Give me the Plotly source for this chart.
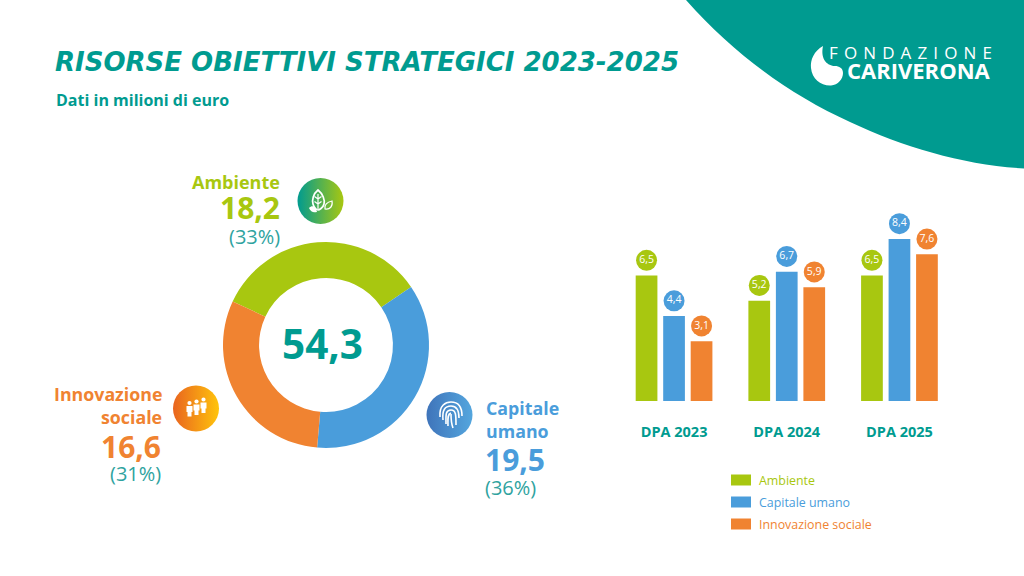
import plotly.graph_objects as go

# ---------- data ----------
SERIES = ["Ambiente", "Capitale umano", "Innovazione sociale"]
YEARS = ["DPA 2023", "DPA 2024", "DPA 2025"]
AMBIENTE = [6.5, 5.2, 6.5]
CAPITALE = [4.4, 6.7, 8.4]
INNOVAZIONE = [3.1, 5.9, 7.6]
TOTALS = [18.2, 19.5, 16.6]
TOTAL_ALL = 54.3
SHARES = ["(33%)", "(36%)", "(31%)"]

GREEN = "#A8C710"
BLUE = "#4A9DDB"
ORANGE = "#F08331"
TEAL = "#009B90"
COLORS = [GREEN, BLUE, ORANGE]
W, H = 1024, 576
FONT = "Open Sans"


def it(v):
    return f"{v:.1f}".replace(".", ",")


fig = go.Figure()

# ---------- bars ----------
x_pos = [0, 1, 2]
for name, vals, col in zip(SERIES, [AMBIENTE, CAPITALE, INNOVAZIONE], COLORS):
    fig.add_bar(x=x_pos, y=vals, name=name, marker_color=col, marker_line_width=0,
                xaxis="x", yaxis="y", showlegend=False, hoverinfo="name+y")

BUBBLE_OFFSET = 0.79
SLOT = 27.5 / 112.7
for j, (name, vals, col) in enumerate(zip(SERIES, [AMBIENTE, CAPITALE, INNOVAZIONE], COLORS)):
    fig.add_scatter(
        x=[i + (j - 1) * SLOT for i in x_pos],
        y=[v + BUBBLE_OFFSET for v in vals],
        text=[it(v) for v in vals],
        mode="markers+text", textposition="middle center",
        textfont=dict(family=FONT, size=10.5, color="white"),
        marker=dict(size=21, color=col, line_width=0),
        xaxis="x", yaxis="y", showlegend=False, hoverinfo="skip", cliponaxis=False,
    )

# ---------- doughnut ----------
cx, cy, R = 326, 345, 103
fig.add_pie(
    labels=SERIES, values=TOTALS, hole=0.65, sort=False, direction="clockwise", rotation=295,
    marker=dict(colors=COLORS, line_width=0), textinfo="none", showlegend=False,
    domain=dict(x=[(cx - R) / W, (cx + R) / W], y=[1 - (cy + R) / H, 1 - (cy - R) / H]),
)

# ---------- gradient icon discs (pixel overlay axes) ----------
for (ix, iy, c1, c2) in [(320.5, 201, "#009B90", GREEN),
                         (449.5, 415, "#3F74BA", "#54A6DE"),
                         (196, 408.5, "#E9641F", "#FFC40C")]:
    fig.add_scatter(x=[ix], y=[iy], mode="markers", xaxis="x2", yaxis="y2", showlegend=False,
                    hoverinfo="skip",
                    marker=dict(size=46, color=c1, line_width=0,
                                gradient=dict(type="horizontal", color=c2)))

# ---------- text ----------
ann = []


def txt(x, y, s, size, color, anchor="left", bold=False, italic=False, family=FONT):
    if bold:
        s = f"<b>{s}</b>"
    if italic:
        s = f"<i>{s}</i>"
    ann.append(dict(x=x, y=y, xref="x2", yref="y2", text=s, showarrow=False, xanchor=anchor,
                    yanchor="middle", align=anchor,
                    font=dict(family=family, size=size, color=color)))


txt(53, 62, "RISORSE OBIETTIVI STRATEGICI 2023-2025", 26, TEAL, bold=True, italic=True, family="DejaVu Sans")
txt(54, 100, "Dati in milioni di euro", 16, TEAL, bold=True)
txt(322.5, 343, it(TOTAL_ALL), 40.5, TEAL, "center", bold=True)

txt(281.5, 182, SERIES[0], 18, GREEN, "right", bold=True)
txt(282, 207, it(TOTALS[0]), 30, GREEN, "right", bold=True)
txt(282, 236, SHARES[0], 20, "#2FA3A0", "right")

txt(163.5, 394, "Innovazione", 17.8, ORANGE, "right", bold=True)
txt(163.5, 417, "sociale", 17.8, ORANGE, "right", bold=True)
txt(162.5, 446, it(TOTALS[2]), 30, ORANGE, "right", bold=True)
txt(162.5, 473, SHARES[2], 20, "#2FA3A0", "right")

txt(483.5, 408, "Capitale", 17.8, BLUE, bold=True)
txt(483.5, 431, "umano", 17.8, BLUE, bold=True)
txt(482.5, 459, it(TOTALS[1]), 30, BLUE, bold=True)
txt(482.5, 487, SHARES[1], 20, "#2FA3A0")

# legend
shapes = []
for name, col, ly in zip(SERIES, COLORS, [480, 502, 524]):
    shapes.append(dict(type="rect", xref="x2", yref="y2", x0=731, x1=751, y0=ly - 5.5, y1=ly + 5.5,
                       fillcolor=col, line_width=0, layer="above"))
    txt(757, ly, name, 12.4, col)

# logo
txt(827, 52, "F\u200a O\u200a N\u200a D\u200a A\u200a Z\u200a I\u200a O\u200a N\u200a E", 17, "white")
txt(845, 70, "CARIVERONA", 22, "white", bold=True)

# ---------- decorative paths ----------
def path(d, fill="white", line=None, width=0):
    s = dict(type="path", xref="x2", yref="y2", path=d, fillcolor=fill, layer="above",
             line=dict(width=width, color=line or "rgba(0,0,0,0)"))
    shapes.append(s)


# teal corner (below everything)
shapes.append(dict(type="path", xref="x2", yref="y2", layer="below", fillcolor=TEAL, line_width=0,
                   path="M 686 0 C 735 55, 790 95, 850 122 C 905 148, 965 165, 1024 168.5 L 1024 0 Z"))

# logo drop
path("M 823 46 C 814 51, 810 60, 811 68 C 812 79, 821 86, 831 85.5 C 838 85, 843 79, 843 73 "
     "C 843 68, 839 66, 835 66 C 828 66, 820 60, 823 46 Z")

# fingerprint
for d in ["M 440 417 C 439 405, 446 402, 451 402 C 458 402, 462 407, 462 416",
          "M 443 420 C 442 410, 445 406, 451 406 C 456 406, 459 410, 459 418",
          "M 446 424 C 446 416, 445 410, 451 410 C 456 410, 456 415, 456 425",
          "M 451 414 C 451 418, 451 423, 453 428", "M 448 426 C 448 420, 447 414, 451 413"]:
    path(d, fill="rgba(0,0,0,0)", line="white", width=1.6)

# leaves
path("M 318 190 C 313 194, 312 200, 313 204 C 314 208, 317 210, 318 210 C 319 210, 323 208, 324 204 "
     "C 325 200, 323 194, 318 190 Z", fill="rgba(0,0,0,0)", line="white", width=1.7)
path("M 318 194 L 318 209 M 318 199 L 314.5 196.5 M 318 199 L 321.5 196.5 M 318 204 L 314.5 201.5 M 318 204 L 321.5 201.5",
     fill="rgba(0,0,0,0)", line="white", width=1.2)
path("M 309 208 C 312 205, 316 206, 317 212 C 313 213, 311 212, 309 208 Z")
path("M 332 201 C 333 206, 330 210, 325 209 C 324 205, 327 202, 332 201 Z", fill="rgba(0,0,0,0)", line="white", width=1.2)

# people
for hx, hy in [(189.5, 403), (196.5, 401.5), (203.5, 399.5)]:
    shapes.append(dict(type="circle", xref="x2", yref="y2", x0=hx - 2.1, x1=hx + 2.1, y0=hy - 2.1, y1=hy + 2.1,
                       fillcolor="white", line_width=0, layer="above"))
    path(f"M {hx-3} {hy+3} L {hx+3} {hy+3} L {hx+3} {hy+9} L {hx+2} {hy+9} L {hx+2} {hy+13.5} "
         f"L {hx-2} {hy+13.5} L {hx-2} {hy+9} L {hx-3} {hy+9} Z")

# ---------- layout ----------
fig.update_layout(
    width=W, height=H, margin=dict(l=0, r=0, t=0, b=0, pad=0),
    paper_bgcolor="white", plot_bgcolor="rgba(0,0,0,0)",
    barmode="group", bargap=0.268, bargroupgap=0.21,
    font=dict(family=FONT),
    annotations=ann, shapes=shapes,
    xaxis=dict(domain=[617.7 / W, 955.8 / W], range=[-0.5, 2.5], tickmode="array", tickvals=x_pos,
               ticktext=[f"<b>{y}</b>" for y in YEARS], showgrid=False, zeroline=False, showline=False,
               ticks="", ticklabelstandoff=20, tickfont=dict(family=FONT, size=14.5, color=TEAL)),
    yaxis=dict(domain=[(H - 401) / H, (H - 205) / H], range=[0, 196 / 19.3], visible=False),
    xaxis2=dict(domain=[0, 1], range=[0, W], visible=False, anchor="y2"),
    yaxis2=dict(domain=[0, 1], range=[H, 0], visible=False, anchor="x2"),
)

fig.write_html("out.html", post_script="document.body.style.margin='0';document.body.style.background='white';",
               config=dict(displayModeBar=False))
